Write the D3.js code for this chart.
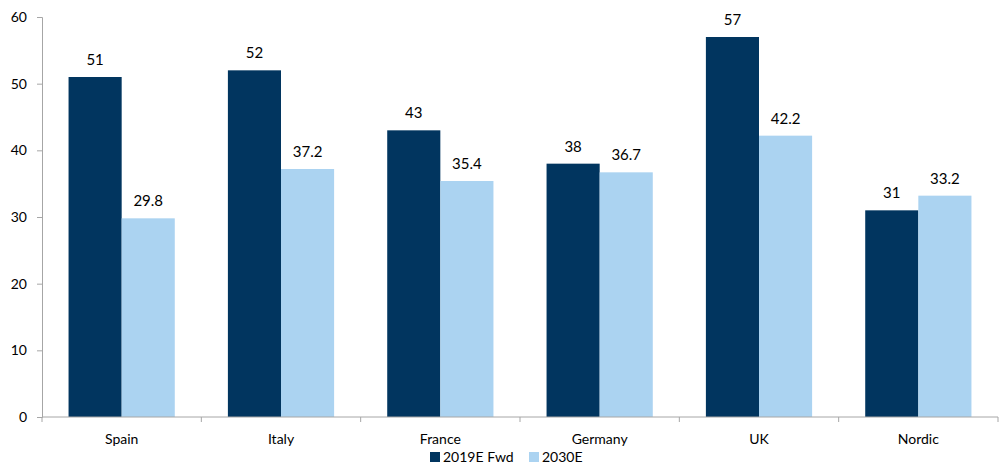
<!DOCTYPE html>
<html>
<head>
<meta charset="utf-8">
<script src="https://cdn.jsdelivr.net/npm/d3@7"></script>
<style>
  body { margin: 0; background: #fff; }
  text { font-family: Lato, "Liberation Sans", sans-serif; fill: #000; }
</style>
</head>
<body>
<div id="chart"></div>
<script>
let categories = ["Spain", "Italy", "France", "Germany", "UK", "Nordic"];
let seriesNames = ["2019E Fwd", "2030E"];
let values2019 = [51, 52, 43, 38, 57, 31];
let values2030 = [29.8, 37.2, 35.4, 36.7, 42.2, 33.2];
let yTicks = [0, 10, 20, 30, 40, 50, 60];

let width = 1000, height = 466;
let margin = {top: 17, right: 2, bottom: 49, left: 42};

// Colors
let colorSeries = {"2019E Fwd": '#01355f', "2030E": '#abd3f1'};

let series = {"2019E Fwd": values2019, "2030E": values2030};

let svg = d3.select("#chart")
    .append("svg")
    .attr("width", width)
    .attr("height", height);

let xScale = d3.scaleBand()
    .domain(categories)
    .range([margin.left, width - margin.right]);

let innerScale = d3.scaleBand()
    .domain(seriesNames)
    .range([xScale.bandwidth() / 6, xScale.bandwidth() * 5 / 6]);

let yScale = d3.scaleLinear()
    .domain([0, 60])
    .range([height - margin.bottom, margin.top]);

// y axis
let yAxis = svg.append("g")
    .attr("transform", "translate(" + margin.left + ",0)")
    .call(d3.axisLeft(yScale).tickValues(yTicks).tickSize(5).tickPadding(10));
yAxis.selectAll("text").style("font-size", "14px");

// bars
seriesNames.forEach((s, si) => {
    svg.selectAll(".bar-" + si)
        .data(series[s])
        .enter()
        .append("rect")
        .attr("class", "bar-" + si)
        .attr("x", (d, i) => xScale(categories[i]) + innerScale(s))
        .attr("y", d => yScale(d))
        .attr("width", innerScale.bandwidth())
        .attr("height", d => yScale(0) - yScale(d))
        .attr("fill", colorSeries[s]);

    svg.selectAll(".label-" + si)
        .data(series[s])
        .enter()
        .append("text")
        .attr("class", "label-" + si)
        .attr("x", (d, i) => xScale(categories[i]) + innerScale(s) + innerScale.bandwidth() / 2)
        .attr("y", d => yScale(d) - 12)
        .attr("text-anchor", "middle")
        .style("font-size", "15px")
        .text(d => d);
});

// x axis with ticks between categories
let xAxis = svg.append("g")
    .attr("transform", "translate(0," + yScale(0) + ")");
xAxis.append("line")
    .attr("x1", margin.left)
    .attr("x2", width - margin.right)
    .attr("stroke", "#a6a6a6");
let boundaries = categories.map(c => xScale(c)).concat([xScale.range()[1]]);
xAxis.selectAll(".xtick")
    .data(boundaries)
    .enter()
    .append("line")
    .attr("x1", d => d)
    .attr("x2", d => d)
    .attr("y1", 0)
    .attr("y2", 5)
    .attr("stroke", "#a6a6a6");
xAxis.selectAll(".xlabel")
    .data(categories)
    .enter()
    .append("text")
    .attr("x", d => xScale(d) + xScale.bandwidth() / 2)
    .attr("y", 27)
    .attr("text-anchor", "middle")
    .style("font-size", "14px")
    .text(d => d);

yAxis.select(".domain").attr("stroke", "#a6a6a6");
yAxis.selectAll(".tick line").attr("stroke", "#a6a6a6");

// legend
let legend = svg.append("g")
    .attr("transform", "translate(430,452)");
let legendX = [0, 99];
seriesNames.forEach((s, i) => {
    legend.append("rect")
        .attr("x", legendX[i])
        .attr("y", 0)
        .attr("width", 10)
        .attr("height", 10)
        .attr("fill", colorSeries[s]);
    legend.append("text")
        .attr("x", legendX[i] + 13)
        .attr("y", 10)
        .style("font-size", "14px")
        .text(s);
});
</script>
</body>
</html>
